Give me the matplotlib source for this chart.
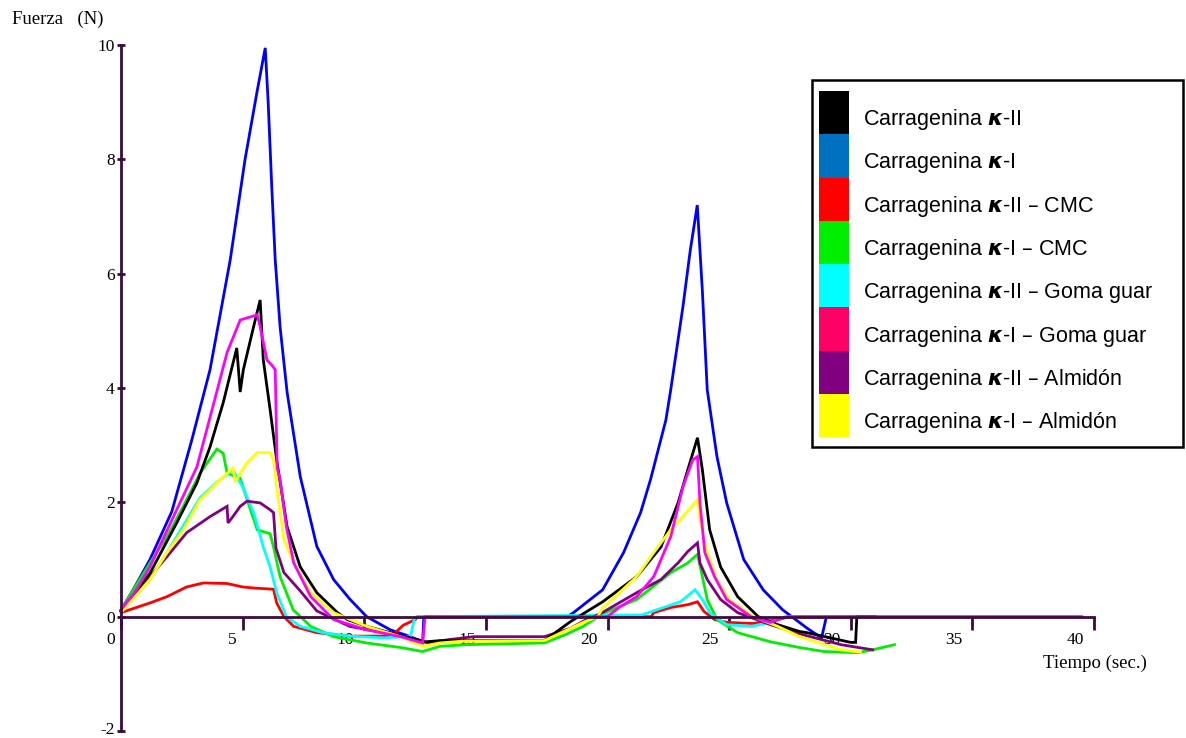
import matplotlib
matplotlib.use("Agg")
import matplotlib.pyplot as plt
from matplotlib.patches import Patch, Rectangle
from matplotlib.transforms import ScaledTranslation

# ---------------- data ----------------
t_k2 = [0, 1.19, 2.29, 3.12, 3.66, 4.2, 4.76, 4.9, 5.03, 5.45, 5.72, 5.85, 6.13, 6.4, 6.83, 7.37,
        8.05, 8.9, 9.3, 10.1, 11.5, 12.5, 13.1, 17.4, 18.5, 19.8, 21.2, 22.2, 22.9, 23.3, 23.7,
        23.9, 24.2, 24.65, 25.35, 26.2, 27.0, 27.9, 28.2, 30.0, 30.2, 30.25, 31.0]
f_k2 = [0.1, 0.76, 1.64, 2.34, 2.97, 3.74, 4.70, 3.93, 4.32, 5.07, 5.54, 4.49, 3.62, 2.74, 1.57, 0.87,
        0.42, 0.07, -0.05, -0.17, -0.33, -0.44, -0.42, -0.42, -0.08, 0.26, 0.70, 1.22, 1.99, 2.57, 3.13,
        2.57, 1.52, 0.87, 0.35, 0.0, -0.14, -0.26, -0.28, -0.45, -0.45, 0.0, 0.0]

t_k1 = [0, 0.5, 1.19, 2.09, 2.91, 3.66, 4.49, 5.1, 5.6, 5.93, 6.05, 6.2, 6.34, 6.54, 6.83, 7.37,
        8.05, 8.74, 9.42, 10.1, 11.07, 11.9, 12.4, 12.45, 18.35, 18.6, 19.8, 20.66, 21.36, 21.77,
        22.4, 22.6, 23.1, 23.4, 23.69, 23.9, 24.1, 24.5, 24.9, 25.6, 26.4, 27.2, 28.2, 28.8, 29.0, 31.0]
f_k1 = [0.12, 0.47, 1.0, 1.84, 3.09, 4.32, 6.24, 8.0, 9.2, 9.95, 9.0, 7.5, 6.24, 5.07, 3.92, 2.45,
        1.23, 0.65, 0.30, 0.0, -0.23, -0.35, -0.44, 0.0, 0.0, 0.07, 0.47, 1.12, 1.82, 2.4,
        3.44, 3.97, 5.42, 6.4, 7.2, 5.7, 3.97, 2.8, 1.99, 1.0, 0.47, 0.12, -0.2, -0.37, 0.0, 0.0]

t_k2_cmc = [0, 1.19, 1.89, 2.7, 3.39, 4.36, 5.0, 5.5, 6.27, 6.4, 6.7, 7.1, 8.05, 9.4, 10.8, 11.2,
            11.6, 12.1, 12.2, 21.8, 21.9, 22.6, 23.3, 23.7, 23.97, 24.4, 24.9, 26.0, 27.0, 27.5, 31.0]
f_k2_cmc = [0.07, 0.24, 0.35, 0.52, 0.59, 0.58, 0.52, 0.5, 0.48, 0.24, 0.0, -0.17, -0.28, -0.34, -0.34, -0.31,
            -0.15, -0.05, 0.0, 0.0, 0.07, 0.16, 0.21, 0.26, 0.09, -0.05, -0.1, -0.12, -0.05, 0.0, 0.0]

t_k1_cmc = [0, 1.19, 1.89, 2.56, 3.25, 3.94, 4.2, 4.36, 4.9, 5.3, 5.6, 6.13, 6.27, 6.54, 7.08, 7.8,
            8.74, 10.1, 11.5, 12.4, 13.1, 14.2, 17.4, 18.3, 19.0, 19.8, 21.2, 22.6, 23.3, 23.7, 23.9,
            24.1, 24.5, 25.35, 26.7, 27.9, 28.9, 30.3, 30.9, 31.8]
f_k1_cmc = [0.12, 0.94, 1.4, 1.93, 2.51, 2.93, 2.86, 2.51, 2.42, 1.9, 1.52, 1.45, 1.22, 0.7, 0.12, -0.17,
            -0.35, -0.46, -0.54, -0.61, -0.52, -0.49, -0.46, -0.31, -0.17, 0.05, 0.3, 0.77, 0.94, 1.09, 0.7,
            0.3, -0.05, -0.28, -0.44, -0.54, -0.61, -0.63, -0.58, -0.49]

t_k2_gg = [0, 1.19, 1.89, 3.25, 3.94, 4.6, 5.0, 5.45, 5.85, 6.13, 6.4, 6.8, 7.37, 8.3, 9.4, 10.8,
           11.9, 12.05, 12.15, 21.4, 22.3, 23.0, 23.6, 23.9, 24.2, 24.9, 25.9, 26.7, 27.3, 39.4]
f_k2_gg = [0.1, 0.65, 1.12, 2.08, 2.35, 2.57, 2.27, 1.82, 1.22, 0.87, 0.42, 0.0, -0.17, -0.28, -0.34, -0.37,
           -0.35, -0.05, 0.0, 0.03, 0.16, 0.26, 0.47, 0.3, 0.07, -0.14, -0.17, -0.1, 0.0, 0.0]

t_k1_gg = [0, 0.6, 1.19, 2.29, 3.12, 3.7, 4.36, 4.9, 5.6, 5.72, 6.0, 6.2, 6.34, 6.42, 6.54, 6.8,
           7.1, 7.8, 8.74, 10.1, 11.5, 12.4, 12.5, 20.0, 20.5, 21.2, 21.9, 22.6, 23.1, 23.5, 23.7,
           23.8, 24.0, 24.4, 24.9, 25.9, 26.7, 27.4, 39.5]
f_k1_gg = [0.12, 0.45, 0.87, 1.87, 2.62, 3.55, 4.62, 5.19, 5.28, 5.07, 4.49, 4.4, 4.32, 2.6, 2.4, 1.57,
           0.94, 0.35, -0.05, -0.23, -0.35, -0.46, 0.0, 0.0, 0.17, 0.35, 0.7, 1.4, 2.27, 2.74, 2.8,
           1.99, 1.12, 0.7, 0.3, 0.0, -0.1, 0.0, 0.0]

t_k2_alm = [0, 1.19, 1.89, 2.7, 3.66, 4.36, 4.4, 4.6, 4.9, 5.18, 5.72, 6.13, 6.27, 6.37, 6.7, 7.37,
            8.05, 9.4, 10.8, 12.2, 12.6, 13.5, 14.5, 17.4, 18.5, 19.0, 19.7, 21.2, 22.2, 22.9, 23.3,
            23.7, 23.8, 24.1, 24.65, 25.35, 26.7, 27.9, 29.6, 30.9]
f_k2_alm = [0.1, 0.7, 1.05, 1.47, 1.75, 1.93, 1.64, 1.75, 1.93, 2.02, 1.99, 1.87, 1.82, 1.2, 0.77, 0.45,
            0.1, -0.17, -0.28, -0.4, -0.46, -0.4, -0.35, -0.35, -0.2, -0.08, 0.05, 0.42, 0.65, 0.94, 1.14,
            1.29, 0.94, 0.65, 0.3, 0.07, -0.14, -0.3, -0.49, -0.58]

t_k1_alm = [0, 1.19, 1.89, 2.56, 3.25, 3.94, 4.6, 4.7, 4.9, 5.18, 5.6, 6.13, 6.27, 6.45, 6.7, 7.1,
            7.8, 8.74, 10.1, 11.5, 12.4, 13.1, 14.0, 17.4, 19.0, 19.6, 19.8, 21.2, 21.9, 22.6, 23.1,
            23.7, 23.8, 24.1, 24.5, 25.0, 26.0, 27.0, 27.9, 29.6, 30.4]
f_k1_alm = [0.07, 0.65, 1.12, 1.52, 2.05, 2.34, 2.6, 2.36, 2.5, 2.69, 2.87, 2.87, 2.74, 2.1, 1.35, 0.94,
            0.42, 0.07, -0.17, -0.35, -0.52, -0.46, -0.43, -0.42, -0.1, 0.0, 0.15, 0.70, 1.12, 1.52, 1.75,
            2.05, 1.7, 1.12, 0.65, 0.3, 0.0, -0.17, -0.35, -0.58, -0.62]

x_ticks = [0, 5, 10, 15, 20, 25, 30, 35, 40]
y_ticks = [-2, 0, 2, 4, 6, 8, 10]

# ---------------- figure ----------------
W, H = 1186, 738
fig = plt.figure(figsize=(W / 100, H / 100), dpi=100)
ax = fig.add_axes([121 / W, 1 - 731 / H, (1094 - 121) / W, (731 - 45) / H])
ax.set_xlim(0, 40)
ax.set_ylim(-2, 10)

AX_COL = '#3c0a3c'
for s in ('top', 'right'):
    ax.spines[s].set_visible(False)
ax.spines['bottom'].set_position(('data', 0))
for s in ('left', 'bottom'):
    ax.spines[s].set_color(AX_COL)
    ax.spines[s].set_linewidth(2)

series = [
    (t_k1, f_k1, '#0000FF'),
    (t_k2_cmc, f_k2_cmc, '#FF0000'),
    (t_k1_cmc, f_k1_cmc, '#00EE00'),
    (t_k2_gg, f_k2_gg, '#00FFFF'),
    (t_k2_alm, f_k2_alm, '#800080'),
    (t_k2, f_k2, '#000000'),
    (t_k1_alm, f_k1_alm, '#FFFF00'),
    (t_k1_gg, f_k1_gg, '#FF00FF'),
]
for tx, fy, c in series:
    ax.plot(tx, fy, color=c, lw=2.0, solid_joinstyle='miter', clip_on=False)

serif = 'Liberation Serif'
ax.set_xticks(x_ticks)
ax.set_xticklabels([str(v) for v in x_ticks], fontfamily=serif, fontsize=12.5)
ax.set_yticks(y_ticks)
ax.set_yticklabels([str(v) for v in y_ticks], fontfamily=serif, fontsize=12.5)
ax.tick_params(axis='x', direction='out', length=9.5, width=2, color=AX_COL, pad=1.5)
ax.tick_params(axis='y', direction='inout', length=6, width=2, color=AX_COL, pad=1.5)
for lab in ax.get_xticklabels():
    n = len(lab.get_text())
    dx = -10 if n == 1 else -19
    lab.set_transform(lab.get_transform() + ScaledTranslation(dx / 100, 0, fig.dpi_scale_trans))
for lab in ax.get_yticklabels():
    if lab.get_text() == '-2':
        lab.set_transform(lab.get_transform() + ScaledTranslation(0, 3 / 100, fig.dpi_scale_trans))

fig.text(12 / W, 1 - 19 / H, 'Fuerza   (N)', fontfamily=serif, fontsize=13.5, ha='left', va='center')
fig.text(1043 / W, 1 - 663 / H, 'Tiempo (sec.)', fontfamily=serif, fontsize=13.5, ha='left', va='center')

# ---------------- legend ----------------
K = r'$\kappa$'
try:
    from matplotlib.mathtext import MathTextParser
    MathTextParser('agg').parse(r'$\boldsymbol{\kappa}$', 100)
    K = r'$\boldsymbol{\kappa}$'
except Exception:
    pass

leg_labels = ['Carragenina ' + K + '-II',
              'Carragenina ' + K + '-I',
              'Carragenina ' + K + '-II – CMC',
              'Carragenina ' + K + '-I – CMC',
              'Carragenina ' + K + '-II – Goma guar',
              'Carragenina ' + K + '-I – Goma guar',
              'Carragenina ' + K + '-II – Almidón',
              'Carragenina ' + K + '-I – Almidón']
leg_colors = ['#000000', '#0070C0', '#FF0000', '#00EE00', '#00FFFF', '#FF0066', '#800080', '#FFFF00']

fs = 15.5
pitch_pt = 43.3 * 72 / 100          # entry height in points
hh = (pitch_pt / fs - 0.245) / 0.65  # matplotlib legend handle-height relation
fs_px = fs * 100 / 72
handles = [Patch(facecolor=c, edgecolor='none') for c in leg_colors]
leg = fig.legend(handles, leg_labels, loc='upper left',
                 bbox_to_anchor=(819 / W, 1 - 91 / H), bbox_transform=fig.transFigure,
                 frameon=False, borderpad=0, borderaxespad=0, labelspacing=0,
                 handlelength=30 / fs_px, handleheight=hh, handletextpad=14 / fs_px,
                 prop={'family': 'Liberation Sans', 'size': fs})
for t in leg.get_texts():
    t.set_transform(t.get_transform() + ScaledTranslation(0, -6 / 100, fig.dpi_scale_trans))
fig.patches.append(Rectangle((812 / W, 1 - 447 / H), (1183 - 812) / W, (447 - 80) / H,
                             transform=fig.transFigure, fill=False, ec='black', lw=1.8))

fig.savefig('out.png', dpi=100)
